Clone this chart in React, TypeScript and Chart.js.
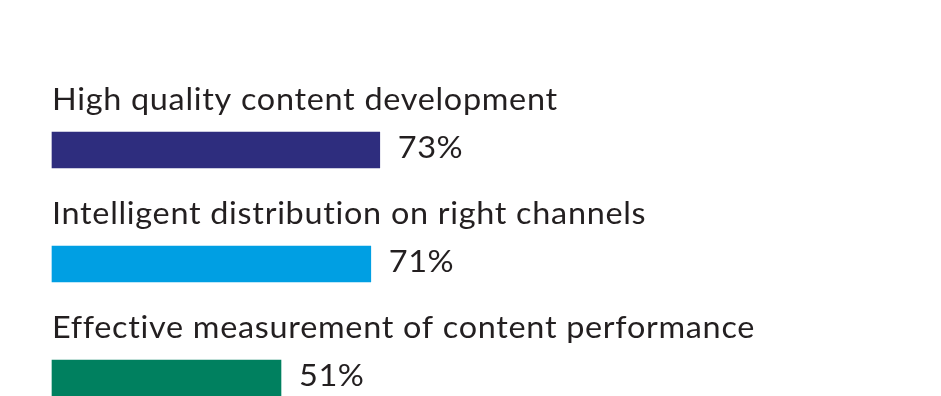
import React, { useEffect, useRef } from "react";
import { Chart, registerables } from "chart.js";

Chart.register(...registerables);

const categories = [
  "High quality content development",
  "Intelligent distribution on right channels",
  "Effective measurement of content performance",
];
const values = [73, 71, 51];
const valueLabels = ["73%", "71%", "51%"];
const barColors = ["#2E2D7E", "#009FE3", "#00805F"];

function drawText(ctx: any, text: string, x: number, y: number, sx: number, ls: string) {
  ctx.save();
  ctx.letterSpacing = ls;
  ctx.translate(x, y);
  ctx.scale(sx, 1);
  ctx.fillText(text, 0, 0);
  ctx.restore();
}

const labelPlugin = {
  id: "barLabels",
  afterDatasetsDraw(chart: any) {
    const ctx = chart.ctx;
    const meta = chart.getDatasetMeta(0);
    ctx.save();
    ctx.fillStyle = "#231F20";
    ctx.textBaseline = "alphabetic";
    ctx.textAlign = "left";
    meta.data.forEach((bar: any, i: number) => {
      const p = bar.getProps(["x", "y", "base", "height"], true);
      const top = p.y - p.height / 2;
      const bottom = p.y + p.height / 2;
      ctx.font = "30px Lato";
      drawText(ctx, categories[i], p.base, top - 21.7, 1.08, "0.65px");
      ctx.font = "31px Lato";
      drawText(ctx, valueLabels[i], p.x + 18, bottom - 10.5, 1.05, "0.5px");
    });
    ctx.restore();
  },
};

export default function App() {
  const ref = useRef<HTMLCanvasElement | null>(null);
  useEffect(() => {
    if (!ref.current) return;
    const chart = new Chart(ref.current, {
      type: "bar",
      data: {
        labels: categories,
        datasets: [
          {
            data: values,
            backgroundColor: barColors,
            borderWidth: 0,
            barThickness: 36,
            clip: false as any,
          },
        ],
      },
      options: {
        indexAxis: "y",
        animation: false,
        responsive: true,
        maintainAspectRatio: false,
        layout: { padding: { left: 52, right: 440, top: 150, bottom: 18 } },
        scales: {
          x: { display: false, min: 0, max: 100 },
          y: { display: false, offset: false },
        },
        plugins: { legend: { display: false }, tooltip: { enabled: false } },
      },
      plugins: [labelPlugin],
    });
    return () => chart.destroy();
  }, []);
  return (
    <div style={{ position: "fixed", left: 0, top: 0, width: 941, height: 396, background: "#fff" }}>
      <canvas ref={ref} />
    </div>
  );
}
